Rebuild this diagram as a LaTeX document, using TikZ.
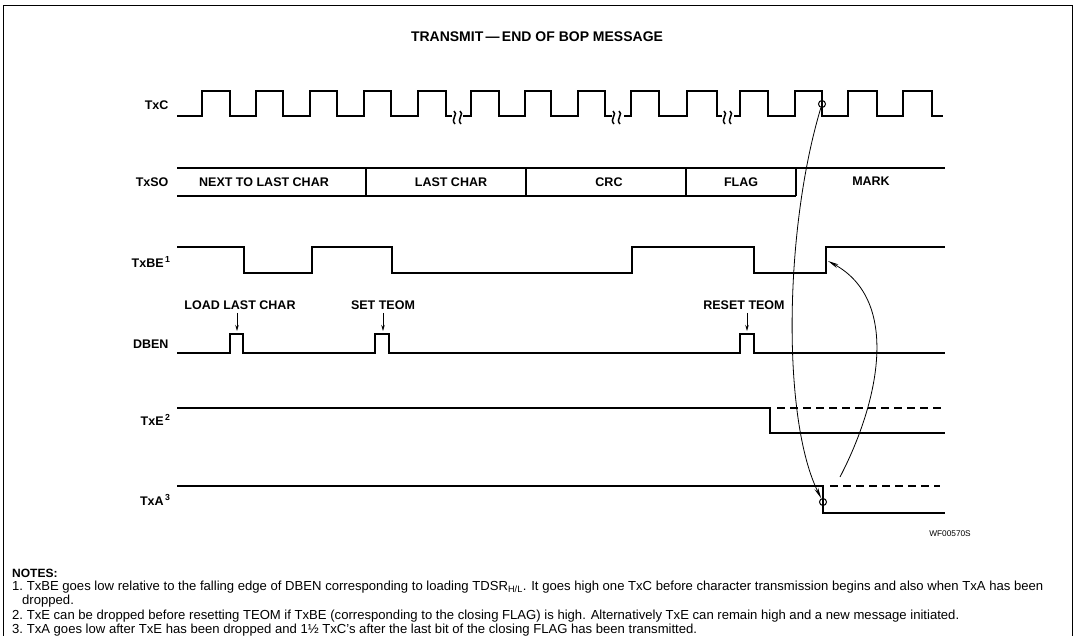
\documentclass[tikz,border=0pt]{standalone}
\usepackage{fontspec}
\setmainfont{Liberation Sans}
\usetikzlibrary{arrows.meta}

\begin{document}
\begin{tikzpicture}[x=1pt,y=-1pt,
    wave/.style={line width=2.2pt},
    sig/.style={anchor=east,font=\bfseries\fontsize{12.5}{14}\selectfont},
    lbl/.style={font=\bfseries\fontsize{12.5}{14}\selectfont},
    note/.style={anchor=west,inner sep=0pt,font=\fontsize{13.1}{15}\selectfont},
    ptr/.style={-{Stealth[length=6pt,width=3.5pt]},line width=0.8pt},
    relarrow/.style={-{Stealth[length=11pt,width=4pt]},line width=0.8pt},
    ring/.style={circle,draw,line width=1pt,inner sep=0pt,minimum size=7pt},
    hold/.style={line width=2.2pt,dash pattern=on 8pt off 5pt}]
  \useasboundingbox (0,0) rectangle (1075,636);
  \draw[line width=0.8pt] (3,636) -- (3,5) -- (1072,5) -- (1072,636);
  \node[font=\bfseries\fontsize{14}{16}\selectfont] (title) at (537,37) {TRANSMIT\,---\,END OF BOP MESSAGE};

  % signal names
  \node[sig] (txc) at (172,105) {TxC};
  \node[sig] (txso) at (172,182) {TxSO};
  \node[sig] (txbe) at (174,262) {TxBE\textsuperscript{\,1}};
  \node[sig] (dben) at (172,344) {DBEN};
  \node[sig] (txe) at (174,420) {TxE\textsuperscript{\,2}};
  \node[sig] (txa) at (174,500) {TxA\textsuperscript{\,3}};

  % TxC, broken in three places
  \draw[wave] (177,116) foreach \r/\f in {202/230,256/283,310/337,364/391,418/446}
    { -- (\r,116) -- (\r,91) -- (\f,91) -- (\f,116) } -- (452,116);
  \draw[wave] (463,116) foreach \r/\f in {471/499,525/551,578/605}
    { -- (\r,116) -- (\r,91) -- (\f,91) -- (\f,116) } -- (612,116);
  \draw[wave] (624,116) foreach \r/\f in {631/659,687/717}
    { -- (\r,116) -- (\r,91) -- (\f,91) -- (\f,116) } -- (722,116);
  \draw[wave] (734,116) foreach \r/\f in {740/768,795/822,848/877,903/932}
    { -- (\r,116) -- (\r,91) -- (\f,91) -- (\f,116) } -- (943,116);
  \foreach \b in {454,613,724}
    \draw[line width=1.5pt] (\b,111) .. controls (\b+5,114) and (\b-4,119) .. (\b+1,124)
      (\b+6,111) .. controls (\b+11,114) and (\b+2,119) .. (\b+7,124);

  % TxSO
  \draw[wave] (177,168) -- (945,168);
  \draw[wave] (177,196) -- (796,196);
  \foreach \d in {366,526,686,796}
    \draw[wave] (\d,168) -- (\d,196);
  \node[lbl] (next) at (264,182) {NEXT TO LAST CHAR};
  \node[lbl] (last) at (451,182) {LAST CHAR};
  \node[lbl] (crc) at (609,182) {CRC};
  \node[lbl] (flag) at (741,182) {FLAG};
  \node[lbl] (mark) at (871,181) {MARK};

  % TxBE
  \draw[wave] (177,247) -- (244,247) -- (244,273) -- (312,273) -- (312,247) -- (392,247)
    -- (392,273) -- (632,273) -- (632,247) -- (754,247) -- (754,273) -- (826,273)
    -- (826,247) -- (945,247);
  \coordinate (berise) at (828,261);

  % DBEN
  \draw[wave] (177,353) -- (230,353) -- (230,334) -- (243,334) -- (243,353) -- (375,353)
    -- (375,334) -- (389,334) -- (389,353) -- (740,353) -- (740,334) -- (754,334)
    -- (754,353) -- (945,353);
  \node[lbl] (llc) at (240,305) {LOAD LAST CHAR};
  \node[lbl] (set) at (383,305) {SET TEOM};
  \node[lbl] (reset) at (744,305) {RESET TEOM};
  \coordinate (p1) at (237,331);
  \coordinate (p2) at (383,331);
  \coordinate (p3) at (747,331);
  \draw[ptr] (llc.south -| p1) -- (p1);
  \draw[ptr] (set.south -| p2) -- (p2);
  \draw[ptr] (reset.south -| p3) -- (p3);

  % TxE and TxA
  \draw[wave] (177,408) -- (770,408) -- (770,433) -- (945,433);
  \draw[hold] (777,408) -- (945,408);
  \draw[wave] (177,486) -- (823,486) -- (823,513) -- (945,513);
  \draw[hold] (830,486) -- (940,486);

  % timing relations
  \node[ring] (c1) at (822,104) {};
  \node[ring] (c2) at (823,502) {};
  \coordinate (a2) at (840,477);
  \draw[relarrow] (c1) .. controls (784,230) and (782,420) .. (c2);
  \draw[relarrow] (a2) .. controls (880,400) and (900,300) .. (berise);

  \node[font=\fontsize{8.3}{9}\selectfont] (wf) at (950,534) {WF00570S};

  % notes
  \node[note,font=\bfseries\fontsize{12}{14}\selectfont] (notes) at (12,573) {NOTES:};
  \node[note] (n1) at (12,587) {1.\ TxBE goes low relative to the falling edge of DBEN corresponding to loading TDSR\textsubscript{H/L}. It goes high one TxC before character transmission begins and also when TxA has been};
  \node[note] (n1b) at (22,601) {dropped.};
  \node[note] (n2) at (12,616) {2.\ TxE can be dropped before resetting TEOM if TxBE (corresponding to the closing FLAG) is high. Alternatively TxE can remain high and a new message initiated.};
  \node[note] (n3) at (12,630) {3.\ TxA goes low after TxE has been dropped and 1½ TxC's after the last bit of the closing FLAG has been transmitted.};
\end{tikzpicture}
\end{document}
